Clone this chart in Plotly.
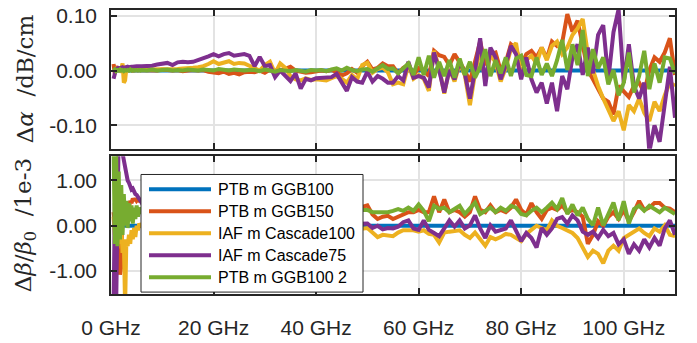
import numpy as np
import plotly.graph_objects as go

# Frequency grid in GHz: quarter-GHz steps over the first few GHz, then 1 GHz steps
freq_ghz = list(np.arange(0.5, 6.0, 0.25)) + list(range(6, 111))

names = ["PTB m GGB100", "PTB m GGB150", "IAF m Cascade100", "IAF m Cascade75", "PTB m GGB100 2"]
colors = ["#0072BD", "#D95319", "#EDB120", "#7E2F8E", "#77AC30"]

# Attenuation deviation, in mdB/cm (converted to dB/cm when plotted)
alpha_ggb100_mdb = [0] * len(freq_ghz)  # reference line: zero deviation
alpha_ggb150_mdb = [
    12, -6, 8, 2, 3, 1, 2, 0, 1, 2, 1, 0, 1, 2, 1, 0, 1, 1, 0, 1, 1, 0,
    1, 0, 1, 0, 2, 1, 0, 1, -1, 0, 1, 0, 1, -2, -3, -5, -2, -6, -4, -7, -3, -2,
    -3, 0, -4, 2, -5, 1, 3, 7, 0, -2, -4, -3, -2, 0, -1, 1, -3, -9, -5, 3, -4, 8, 16, 2, 5, 13, 8,
    8, -5, 5, 10, -8, 5, 0, -10, 36, 28, 25, 10, 30, 15, 0, -20, 20, 53, 10, 30, 33, 0, 15, 48, 40, 10, 30,
    36, 24, 42, 22, 53, 45, 51, 103, 71, 91, 48, 1, -16, -34, -51, -57, -80, -28, -37, -48, -28, -22, -40, 1, 24, 16, 33, 59, -8,
]
alpha_cascade100_mdb = [
    2, 0, 3, 1, 2, 0, 3, 13, -22, -18, 4, 2, 1, 3, 2, 1, 2, 3, 2, 1, 2, 2,
    1, 2, 2, 3, 2, 3, 2, 3, 4, 4, 5, 6, 8, 12, 17, 12, 15, 17, 12, 14, 13, 8,
    5, 0, 10, 16, -5, 13, 5, -10, -16, -18, -14, -17, -16, -17, -18, -14, -10, -15, -22, -8, -16, 10, 14, -4, 3, 5, -3,
    -25, -22, -25, 10, -15, -8, -15, -37, 36, 5, -42, 3, -20, 12, -8, -63, -5, 40, -20, 30, 15, -20, 5, 40, 50, -10, 20,
    27, 13, 42, 19, 45, 53, 30, 42, 65, 77, 94, 30, 1, -28, -51, -72, -92, -74, -109, -63, -74, -51, -77, -92, -57, -74, -45, -22, -28,
]
alpha_cascade75_mdb = [
    -15, -8, 3, 4, 5, 4, 5, 6, 5, 6, 6, 7, 6, 7, 7, 7, 8, 7, 8, 8, 7, 8,
    8, 8, 9, 11, 12, 14, 10, 15, 16, 15, 16, 19, 22, 26, 30, 26, 30, 32, 27, 29, 30, 27,
    8, 25, 8, 10, -12, 0, -10, -19, -5, -33, -15, -18, -14, -13, -12, -12, -6, -20, -37, -12, -20, -22, -2, -20, -10, -15, -22,
    -22, -10, -18, 16, -13, -10, -13, -31, 33, 1, -40, 1, -16, 16, -5, -51, 1, 59, -28, 42, 24, -16, 10, 45, 30, -16, 24,
    -16, -40, -22, -60, -22, -74, -10, -34, 24, 48, -8, 42, -5, 65, 83, -16, 70, 112, -22, 48, -28, -51, -22, -148, -100, -130, -63, 7, -86,
]
alpha_ggb100_2_mdb = [
    0, 2, -1, 1, 0, 2, 0, 1, -1, 1, 0, 1, 0, 2, 0, 1, 0, 1, 1, 0, 1, 0,
    1, 0, 2, 0, 1, 2, 0, 1, 0, 2, 1, 0, 2, 1, 0, 3, 1, 0, 2, 1, 0, 1,
    1, -1, 2, 0, -2, 1, 0, -1, 1, 0, -2, 1, 0, 1, -1, 2, 4, 0, 5, 1, -1, 2, 3, -2, 4, 10, 3,
    4, -5, 4, 13, -8, 24, -8, 27, -13, 16, -10, 19, -13, 22, -8, 16, -13, 7, 39, -10, 19, -5, 24, -10, 22, 27, -8,
    -10, 24, -8, 13, -10, 19, 56, 1, 48, 10, 74, -10, 39, 4, 24, -25, 1, -45, -22, 33, -40, -10, 36, -34, 13, -22, 24, 22, -5,
]

# Relative phase-constant deviation, in units of 1e-3
beta_ggb100 = [0.0] * len(freq_ghz)  # reference line: zero deviation
beta_ggb150 = [
    0.3, 0.0, 0.5, -0.3, 0.2, -1.08, -0.9, 0.3, 0.1, 0.4, 0.3, 0.5, 0.4, 0.55, 0.5, 0.6, 0.55, 0.6, 0.55, 0.58, 0.55, 0.55,
    0.55, 0.52, 0.5, 0.48, 0.5, 0.47, 0.45, 0.46, 0.44, 0.45, 0.42, 0.44, 0.43, 0.4, 0.42, 0.41, 0.4, 0.38, 0.4, 0.39,
    0.37, 0.4, 0.38, 0.36, 0.38, 0.35, 0.37, 0.36, 0.34, 0.36, 0.35, 0.33, 0.35, 0.34, 0.32, 0.34, 0.33, 0.35, 0.32, 0.34,
    0.33, 0.35, 0.38, 0.42,
    0.45, 0.25, 0.15, 0.2, 0.22,
    0.15, 0.2, 0.25, 0.3, 0.3, 0.35, 0.3, 0.3, 0.65, 0.3, 0.58, 0.3, 0.35, 0.3, 0.2, 0.3, 0.65, 0.35, 0.3, 0.45, 0.3, 0.35, 0.3, 0.4, 0.58, 0.35, 0.25,
    0.5, 0.3, 0.15, 0.35, 0.4, 0.35, 0.45, 0.3, 0.35, 0.3, 0.2, -0.4, -0.2, 0.1, 0.0, 0.2, 0.3, 0.15, 0.35, 0.1, 0.3, 0.55, 0.35, 0.4, 0.5, 0.5, 0.4, 0.38, 0.3,
]
beta_cascade100 = [
    0.2, -0.2, 0.3, -0.5, 0.1, -0.4, 0.0, -0.6, -0.3, -1.8, -0.3, -0.45, -0.2, -0.4, -0.1, -0.3, -0.05, -0.25, 0.0, -0.1, 0.05, 0.0,
    0.0, -0.02, -0.05, -0.03, -0.06, -0.04, -0.07, -0.05, -0.08, -0.06, -0.09, -0.07, -0.1, -0.08, -0.06, -0.09, -0.11, -0.08, -0.1, -0.12,
    -0.09, -0.11, -0.13, -0.1, -0.12, -0.09, -0.11, -0.14, -0.1, -0.12, -0.15, -0.11, -0.13, -0.1, -0.12, -0.14, -0.11, -0.13, -0.1, -0.12,
    -0.09, -0.11, -0.08, -0.06,
    -0.05, -0.15, -0.25, -0.2, -0.22,
    -0.23, -0.15, -0.1, -0.1, -0.1, -0.13, -0.1, -0.18, -0.2, -0.37, -0.15, -0.13, -0.12, -0.1, -0.2, -0.27, -0.15, -0.3, -0.44, -0.25, -0.3, -0.25, -0.18, -0.2, -0.27, -0.34, -0.18,
    -0.09, 0.0, -0.05, -0.1, 0.12, 0.0, -0.05, -0.1, -0.16, -0.27, -0.48, -0.69, -0.55, -0.62, -0.83, -0.55, -0.44, -0.55, -0.27, -0.2, -0.12, -0.06, -0.16, -0.23, -0.06, -0.13, 0.01, -0.2, -0.23,
]
beta_cascade75 = [
    -1.8, 0.5, -1.8, 1.0, 2.0, 1.9, 1.8, 1.6, 1.45, 1.3, 1.1, 1.0, 0.95, 0.85, 0.8, 0.82, 0.75, 0.7, 0.68, 0.62, 0.6, 0.55,
    0.5, 0.46, 0.43, 0.4, 0.38, 0.35, 0.34, 0.31, 0.3, 0.27, 0.26, 0.24, 0.22, 0.21, 0.19, 0.18, 0.16, 0.17, 0.14, 0.15,
    0.12, 0.13, 0.1, 0.12, 0.09, 0.1, 0.07, 0.09, 0.06, 0.08, 0.05, 0.07, 0.04, 0.06, 0.03, 0.05, 0.02, 0.04, 0.01, 0.03,
    0.02, 0.04, 0.05, 0.06,
    0.05, -0.05, 0.0, -0.08, -0.05,
    -0.06, -0.02, 0.08, 0.12, -0.06, -0.09, 0.12, -0.09, -0.16, -0.23, -0.06, 0.12, -0.02, 0.12, -0.06, 0.01, 0.23, -0.06, -0.27, 0.01, -0.13, -0.09, -0.06, 0.12, -0.13, -0.34, -0.16,
    -0.27, -0.48, -0.05, -0.2, -0.06, 0.15, 0.19, 0.05, 0.23, 0.12, -0.13, -0.2, -0.13, -0.27, -0.09, -0.23, -0.16, -0.41, -0.3, -0.62, -0.41, -0.55, -0.3, -0.48, -0.27, -0.44, -0.06, 0.12, -0.2,
]
beta_ggb100_2 = [
    1.8, -0.4, 1.6, -0.45, 1.2, -0.3, 0.9, -0.2, 0.7, 0.0, 0.55, -0.05, 0.5, 0.1, 0.45, 0.05, 0.4, 0.15, 0.45, 0.2, 0.4, 0.3,
    0.3, 0.28, 0.32, 0.27, 0.3, 0.26, 0.31, 0.28, 0.25, 0.3, 0.27, 0.29, 0.26, 0.31, 0.28, 0.25, 0.3, 0.27, 0.32, 0.28,
    0.26, 0.3, 0.27, 0.29, 0.25, 0.3, 0.28, 0.31, 0.27, 0.29, 0.26, 0.3, 0.28, 0.32, 0.27, 0.3, 0.28, 0.31, 0.29, 0.33,
    0.3, 0.34, 0.36, 0.35,
    0.35, 0.3, 0.3, 0.28, 0.3,
    0.33, 0.37, 0.33, 0.4, 0.33, 0.47, 0.33, 0.1, 0.44, 0.37, 0.4, 0.3, 0.37, 0.44, 0.26, 0.4, 0.51, 0.26, 0.33, 0.4, 0.3, 0.4, 0.33, 0.44, 0.4, 0.26, 0.23,
    0.33, 0.4, 0.3, 0.4, 0.51, 0.37, 0.61, 0.26, 0.47, 0.23, 0.4, 0.15, 0.01, 0.4, 0.01, 0.26, 0.51, 0.12, 0.54, 0.05, 0.37, 0.44, 0.33, 0.44, 0.37, 0.3, 0.4, 0.33, 0.26,
]

x_tickvals = [0, 20, 40, 60, 80, 100]
x_ticktext = ["0 GHz", "20 GHz", "40 GHz", "60 GHz", "80 GHz", "100 GHz"]
alpha_tickvals = [-0.1, 0.0, 0.1]
alpha_ticktext = ["-0.10", "0.00", "0.10"]
beta_tickvals = [-1.0, 0.0, 1.0]
beta_ticktext = ["-1.00", "0.00", "1.00"]

alpha_series = [alpha_ggb100_mdb, alpha_ggb150_mdb, alpha_cascade100_mdb, alpha_cascade75_mdb, alpha_ggb100_2_mdb]
beta_series = [beta_ggb100, beta_ggb150, beta_cascade100, beta_cascade75, beta_ggb100_2]

W, H = 697, 343
ML, MR, MT, MB = 111, 22, 4, 42
PLOT_W = W - ML - MR
PLOT_H = H - MT - MB
LINE_W = 4


def px_x(px):
    return (px - ML) / PLOT_W


def px_y(py):
    return (H - MB - py) / PLOT_H


fig = go.Figure()
for name, color, a_mdb in zip(names, colors, alpha_series):
    fig.add_trace(go.Scatter(
        x=freq_ghz, y=[v / 1000 for v in a_mdb], name=name, mode="lines",
        line=dict(color=color, width=LINE_W), xaxis="x", yaxis="y", showlegend=False,
    ))
for name, color, b in zip(names, colors, beta_series):
    fig.add_trace(go.Scatter(
        x=freq_ghz, y=b, name=name, mode="lines",
        line=dict(color=color, width=LINE_W), xaxis="x2", yaxis="y2", showlegend=False,
    ))

frame = dict(
    showline=True, linecolor="#262626", linewidth=1.5, mirror="ticks",
    ticks="inside", ticklen=6, tickwidth=1.5, tickcolor="#262626",
    showgrid=True, gridcolor="#e3e3e3", gridwidth=1.5, zeroline=False,
    tickfont=dict(family="Liberation Sans, Arial, sans-serif", size=21, color="#262626"),
)

top_domain = [px_y(149), 1.0]
bottom_domain = [0.0, px_y(157)]

fig.update_layout(
    width=W, height=H,
    margin=dict(l=ML, r=MR, t=MT, b=MB),
    paper_bgcolor="white", plot_bgcolor="white",
    xaxis=dict(frame, range=[0, 110], domain=[0, 1], anchor="y",
               tickvals=x_tickvals, showticklabels=False),
    yaxis=dict(frame, range=[-0.1424, 0.1105], domain=top_domain, anchor="x",
               tickvals=alpha_tickvals, ticktext=alpha_ticktext, ticklabelstandoff=8),
    xaxis2=dict(frame, range=[0, 110], domain=[0, 1], anchor="y2",
                tickvals=x_tickvals, ticktext=x_ticktext, ticklabelstandoff=14),
    yaxis2=dict(frame, range=[-1.507, 1.534], domain=bottom_domain, anchor="x2",
                tickvals=beta_tickvals, ticktext=beta_ticktext, ticklabelstandoff=8),
    showlegend=False,
)

# Axis titles
title_font = dict(family="DejaVu Serif, serif", size=23, color="#262626")
fig.add_annotation(text="Δ<i>α</i>  /dB/cm", textangle=-90, xref="paper", yref="paper",
                   x=px_x(25), y=px_y(76.5), xanchor="center", yanchor="middle",
                   showarrow=False, font=title_font)
fig.add_annotation(text="Δ<i>β</i>/<i>β</i><sub>0</sub>  /1e-3", textangle=-90, xref="paper", yref="paper",
                   x=px_x(25), y=px_y(229), xanchor="center", yanchor="middle",
                   showarrow=False, font=title_font)

# Legend box drawn over the lower panel
box_l, box_t, box_r, box_b = 141, 176, 363, 299
fig.add_shape(type="rect", xref="paper", yref="paper",
              x0=px_x(box_l), x1=px_x(box_r), y0=px_y(box_b), y1=px_y(box_t),
              fillcolor="white", line=dict(color="#262626", width=1), layer="above")
for i, (name, color) in enumerate(zip(names, colors)):
    row_y = 191.5 + 23.0 * i
    fig.add_shape(type="line", xref="paper", yref="paper",
                  x0=px_x(149), x1=px_x(211), y0=px_y(row_y), y1=px_y(row_y),
                  line=dict(color=color, width=LINE_W), layer="above")
    fig.add_annotation(text=name, xref="paper", yref="paper",
                       x=px_x(216), y=px_y(row_y + 0.5), xanchor="left", yanchor="middle",
                       showarrow=False,
                       font=dict(family="Liberation Sans, Arial, sans-serif", size=16, color="#000000"))

fig.write_html("out.html")
